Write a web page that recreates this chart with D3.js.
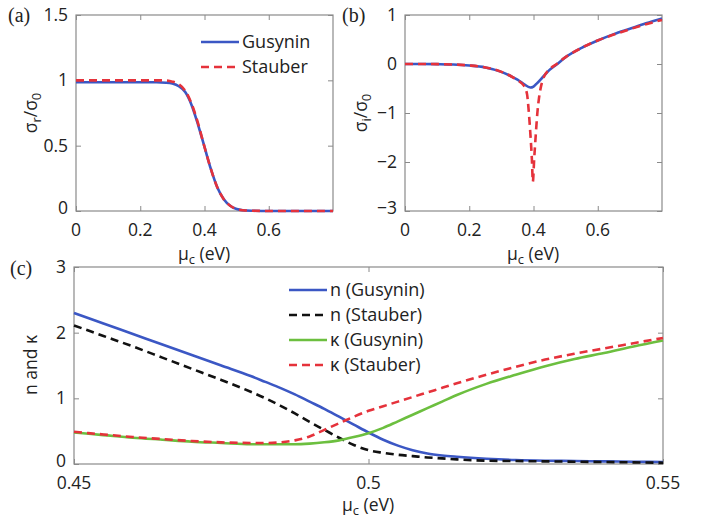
<!DOCTYPE HTML>
<html lang="en">
<head>
  <meta charset="utf-8" />
  <title>Graphene conductivity - Gusynin vs Stauber</title>
  <script src="https://cdnjs.cloudflare.com/ajax/libs/d3/7.8.5/d3.min.js"></script>
  <style>
    body { margin: 0; background: #fff; }
    svg { display: block; font-family: "Open Sans", "Noto Sans", sans-serif; }
    .tick-label { font-size: 17.5px; fill: #222; }
    .axis-title { font-size: 17.5px; fill: #222; }
    .legend-text { font-size: 18px; fill: #222; }
    .panel-tag { font-family: "Liberation Serif", "DejaVu Serif", serif; font-size: 20px; fill: #222; }
  </style>
</head>
<body>
<div id="chart"></div>
<script>
// ---- panel (a): real part sigma_r/sigma_0 vs mu_c ----
var muA = [0, 0.05, 0.1, 0.15, 0.2, 0.25, 0.28, 0.3, 0.32, 0.34, 0.36, 0.38, 0.4, 0.42, 0.44, 0.46, 0.48, 0.5, 0.52, 0.55, 0.6, 0.7, 0.8];
var sigRGusynin = [0.985, 0.985, 0.985, 0.985, 0.985, 0.985, 0.982, 0.975, 0.955, 0.91, 0.81, 0.66, 0.49, 0.32, 0.18, 0.09, 0.04, 0.015, 0.006, 0.002, 0, 0, 0];
var sigRStauber = [1.0, 1.0, 1.0, 1.0, 1.0, 1.0, 0.998, 0.99, 0.97, 0.92, 0.82, 0.67, 0.49, 0.32, 0.18, 0.09, 0.04, 0.015, 0.006, 0.002, 0, 0, 0];

// ---- panel (b): imaginary part sigma_i/sigma_0 vs mu_c ----
var muBGusynin = [0, 0.05, 0.1, 0.15, 0.2, 0.25, 0.3, 0.33, 0.35, 0.37, 0.39, 0.4, 0.41, 0.43, 0.45, 0.47, 0.5, 0.55, 0.6, 0.65, 0.7, 0.75, 0.8];
var sigIGusynin = [0, 0, -0.003, -0.01, -0.03, -0.07, -0.16, -0.25, -0.32, -0.41, -0.48, -0.46, -0.4, -0.26, -0.12, -0.02, 0.14, 0.33, 0.48, 0.61, 0.72, 0.83, 0.93];
var muBStauber = [0, 0.05, 0.1, 0.15, 0.2, 0.25, 0.3, 0.33, 0.35, 0.37, 0.38, 0.385, 0.39, 0.395, 0.398, 0.402, 0.407, 0.412, 0.417, 0.422, 0.43, 0.45, 0.47, 0.5, 0.55, 0.6, 0.65, 0.7, 0.75, 0.8];
var sigIStauber = [0, 0, -0.003, -0.01, -0.03, -0.07, -0.16, -0.25, -0.33, -0.44, -0.62, -0.95, -1.4, -1.95, -2.4, -1.95, -1.45, -1.0, -0.7, -0.5, -0.3, -0.11, -0.01, 0.14, 0.33, 0.48, 0.6, 0.71, 0.81, 0.9];

// ---- panel (c): n and kappa vs mu_c ----
var muC = [0.45, 0.455, 0.46, 0.465, 0.47, 0.475, 0.48, 0.4825, 0.485, 0.4875, 0.49, 0.4925, 0.495, 0.4975, 0.5, 0.5025, 0.505, 0.5075, 0.51, 0.5125, 0.515, 0.52, 0.525, 0.53, 0.535, 0.54, 0.545, 0.55];
var nGusynin = [2.30, 2.14, 1.98, 1.82, 1.66, 1.50, 1.34, 1.25, 1.16, 1.06, 0.95, 0.84, 0.72, 0.60, 0.48, 0.37, 0.28, 0.21, 0.16, 0.13, 0.11, 0.08, 0.06, 0.05, 0.045, 0.04, 0.035, 0.03];
var nStauber = [2.11, 1.95, 1.79, 1.62, 1.45, 1.28, 1.10, 1.00, 0.89, 0.77, 0.64, 0.52, 0.40, 0.29, 0.21, 0.17, 0.14, 0.12, 0.10, 0.085, 0.07, 0.05, 0.045, 0.04, 0.035, 0.03, 0.025, 0.02];
var kGusynin = [0.48, 0.44, 0.40, 0.37, 0.34, 0.32, 0.30, 0.30, 0.30, 0.30, 0.31, 0.33, 0.36, 0.41, 0.47, 0.55, 0.65, 0.75, 0.85, 0.95, 1.05, 1.22, 1.36, 1.49, 1.60, 1.69, 1.79, 1.88];
var kStauber = [0.49, 0.45, 0.41, 0.38, 0.35, 0.33, 0.32, 0.32, 0.33, 0.36, 0.42, 0.52, 0.62, 0.72, 0.81, 0.88, 0.95, 1.02, 1.09, 1.16, 1.23, 1.36, 1.48, 1.59, 1.68, 1.76, 1.84, 1.92];

// tick values / labels
var xTicksAB = [0, 0.2, 0.4, 0.6];
var yTicksA = [0, 0.5, 1, 1.5];
var yTicksB = [-3, -2, -1, 0, 1];
var xTicksC = [0.45, 0.5, 0.55];
var yTicksC = [0, 1, 2, 3];

var blue = "#3b57c4";
var red = "#e5323b";
var green = "#6cbf3f";
var black = "#111";
var frameColor = "#8a8a8a";

var width = 706;
var height = 523;

var svg = d3.select("#chart")
  .append("svg")
  .attr("width", width)
  .attr("height", height);

function fmt(v) {
  // matlab style labels, proper minus sign
  return String(v).replace("-", "\u2212");
}

function makePanel(opt) {
  var x = d3.scaleLinear().domain(opt.xDomain).range([opt.left, opt.right]);
  var y = d3.scaleLinear().domain(opt.yDomain).range([opt.bottom, opt.top]);
  var g = svg.append("g");

  // box
  g.append("rect")
    .attr("x", opt.left)
    .attr("y", opt.top)
    .attr("width", opt.right - opt.left)
    .attr("height", opt.bottom - opt.top)
    .attr("fill", "none")
    .attr("stroke", frameColor)
    .attr("stroke-width", 1.2);

  // inward ticks on all four sides (axes with negative tick size)
  var tl = 5;
  var bottomAxis = d3.axisBottom(x).tickValues(opt.xTicks).tickSize(-tl).tickFormat("");
  var topAxis = d3.axisTop(x).tickValues(opt.xTicks).tickSize(-tl).tickFormat("");
  var leftAxis = d3.axisLeft(y).tickValues(opt.yTicks).tickSize(-tl).tickFormat("");
  var rightAxis = d3.axisRight(y).tickValues(opt.yTicks).tickSize(-tl).tickFormat("");

  [[bottomAxis, "translate(0," + opt.bottom + ")"],
   [topAxis, "translate(0," + opt.top + ")"],
   [leftAxis, "translate(" + opt.left + ",0)"],
   [rightAxis, "translate(" + opt.right + ",0)"]].forEach(function(a) {
    var ax = g.append("g").attr("transform", a[1]).call(a[0]);
    ax.select(".domain").remove();
    ax.selectAll("line").attr("stroke", frameColor).attr("stroke-width", 1);
  });

  // tick labels
  g.selectAll(".xlab")
    .data(opt.xTicks)
    .enter().append("text")
    .attr("class", "tick-label")
    .attr("x", function(d) { return x(d); })
    .attr("y", opt.bottom + 25)
    .attr("text-anchor", "middle")
    .text(fmt);

  g.selectAll(".ylab")
    .data(opt.yTicks)
    .enter().append("text")
    .attr("class", "tick-label")
    .attr("x", opt.left - 8)
    .attr("y", function(d, i) { return y(d) + (i === 0 ? 3 : 6); })
    .attr("text-anchor", "end")
    .text(fmt);

  // series
  var line = d3.line()
    .x(function(d) { return x(d[0]); })
    .y(function(d) { return y(d[1]); })
    .curve(d3.curveMonotoneX);

  opt.series.forEach(function(s) {
    g.append("path")
      .datum(d3.zip(s.x, s.y))
      .attr("d", line)
      .attr("fill", "none")
      .attr("stroke", s.color)
      .attr("stroke-width", 2.6)
      .attr("stroke-dasharray", s.dashed ? "8,5" : null);
  });

  return { x: x, y: y, g: g };
}

function muLabel(cx, cy) {
  var t = svg.append("text")
    .attr("class", "axis-title")
    .attr("x", cx)
    .attr("y", cy)
    .attr("text-anchor", "middle");
  t.append("tspan").text("\u03bc");
  t.append("tspan").attr("font-size", "13px").attr("dy", 4).text("c");
  t.append("tspan").attr("dy", -4).text(" (eV)");
}

function sigmaLabel(cx, cy, sub) {
  var t = svg.append("text")
    .attr("class", "axis-title")
    .attr("transform", "translate(" + cx + "," + cy + ") rotate(-90)")
    .attr("text-anchor", "middle");
  t.append("tspan").text("\u03c3");
  t.append("tspan").attr("font-size", "13px").attr("dy", 4).text(sub);
  t.append("tspan").attr("dy", -4).text("/\u03c3");
  t.append("tspan").attr("font-size", "13px").attr("dy", 4).text("0");
}

function legend(x0, y0, items) {
  items.forEach(function(it, i) {
    var yy = y0 + i * 25;
    svg.append("line")
      .attr("x1", x0).attr("x2", x0 + 38)
      .attr("y1", yy).attr("y2", yy)
      .attr("stroke", it.color)
      .attr("stroke-width", 2.6)
      .attr("stroke-dasharray", it.dashed ? "8,5" : null);
    svg.append("text")
      .attr("class", "legend-text")
      .attr("x", x0 + 41)
      .attr("y", yy + 6)
      .text(it.label);
  });
}

// (a)
makePanel({
  left: 76, right: 333, top: 15, bottom: 211,
  xDomain: [0, 0.8], yDomain: [0, 1.5],
  xTicks: xTicksAB, yTicks: yTicksA,
  series: [
    { x: muA, y: sigRGusynin, color: blue },
    { x: muA, y: sigRStauber, color: red, dashed: true }
  ]
});
legend(201, 42, [
  { label: "Gusynin", color: blue },
  { label: "Stauber", color: red, dashed: true }
]);
muLabel(204, 260);
sigmaLabel(37, 113, "r");

// (b)
makePanel({
  left: 405, right: 662, top: 15, bottom: 211,
  xDomain: [0, 0.8], yDomain: [-3, 1],
  xTicks: xTicksAB, yTicks: yTicksB,
  series: [
    { x: muBGusynin, y: sigIGusynin, color: blue },
    { x: muBStauber, y: sigIStauber, color: red, dashed: true }
  ]
});
muLabel(533, 260);
sigmaLabel(367, 113, "i");

// (c)
makePanel({
  left: 74, right: 663, top: 267, bottom: 464,
  xDomain: [0.45, 0.55], yDomain: [0, 3],
  xTicks: xTicksC, yTicks: yTicksC,
  series: [
    { x: muC, y: nGusynin, color: blue },
    { x: muC, y: nStauber, color: black, dashed: true },
    { x: muC, y: kGusynin, color: green },
    { x: muC, y: kStauber, color: red, dashed: true }
  ]
});
legend(289, 290, [
  { label: "n (Gusynin)", color: blue },
  { label: "n (Stauber)", color: black, dashed: true },
  { label: "\u03ba (Gusynin)", color: green },
  { label: "\u03ba (Stauber)", color: red, dashed: true }
]);
muLabel(368, 511);
svg.append("text")
  .attr("class", "axis-title")
  .attr("transform", "translate(37,365) rotate(-90)")
  .attr("text-anchor", "middle")
  .text("n and \u03ba");

// panel tags
svg.append("text").attr("class", "panel-tag").attr("x", 8).attr("y", 22).text("(a)");
svg.append("text").attr("class", "panel-tag").attr("x", 342).attr("y", 22).text("(b)");
svg.append("text").attr("class", "panel-tag").attr("x", 10).attr("y", 275).text("(c)");
</script>
</body>
</html>
